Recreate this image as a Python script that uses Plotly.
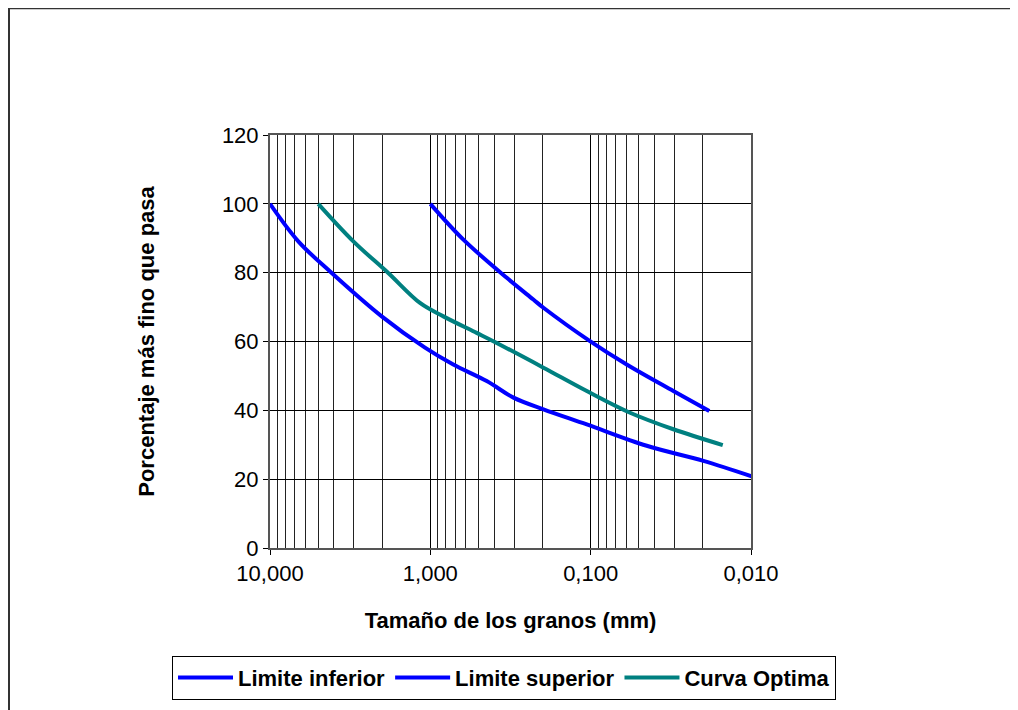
import plotly.graph_objects as go

# Data (grain size in mm, % passing)
inf_size = [10.0, 6.66, 4.12, 2.01, 1.08, 0.719, 0.445, 0.303, 0.197, 0.1057, 0.0447, 0.0198, 0.0099]
inf_pct = [100, 89.1, 79.9, 67.3, 58.2, 53.3, 48.5, 43.7, 40.3, 35.9, 29.7, 25.3, 20.8]

sup_size = [1.0, 0.622, 0.3336, 0.2278, 0.197, 0.101, 0.0596, 0.0305, 0.0182]
sup_pct = [100, 89.6, 78.5, 72.2, 69.8, 60.1, 53.3, 45.6, 39.8]

opt_size = [5.0, 3.02, 1.83, 1.16, 0.829, 0.514, 0.405, 0.197, 0.1057, 0.0568, 0.0305, 0.015]
opt_pct = [100, 89.1, 79.9, 71.2, 67.3, 62.5, 60.1, 52.4, 45.6, 39.3, 34.5, 29.9]

major_vals = [10, 1, 0.1, 0.01]
major_text = ["10,000", "1,000", "0,100", "0,010"]
minor_vals = [m * d for d in [0.01, 0.1, 1] for m in range(2, 10)]

FONT = "Liberation Sans, Arial, sans-serif"
FS = 22

fig = go.Figure()
fig.add_trace(go.Scatter(x=inf_size, y=inf_pct, mode="lines", name="Limite inferior",
                         line=dict(color="#0000FF", width=4, shape="spline", smoothing=1.0)))
fig.add_trace(go.Scatter(x=sup_size, y=sup_pct, mode="lines", name="Limite superior",
                         line=dict(color="#0000FF", width=4, shape="spline", smoothing=1.0)))
fig.add_trace(go.Scatter(x=opt_size, y=opt_pct, mode="lines", name="Curva Optima",
                         line=dict(color="#008080", width=4, shape="spline", smoothing=1.0)))

fig.update_layout(
    width=1010, height=702,
    margin=dict(l=262, r=267, t=127, b=161),
    paper_bgcolor="white", plot_bgcolor="white",
    font=dict(family=FONT, color="black", size=FS),
    showlegend=True,
    legend=dict(orientation="h",
                x=(164 - 262) / 481, xanchor="left", y=-0.258, yanchor="top",
                bordercolor="black", borderwidth=1, bgcolor="white",
                font=dict(family=FONT, size=FS, color="black", weight="bold"),
                itemwidth=55, tracegroupgap=0),
    xaxis=dict(type="log", range=[1, -2],
               tickmode="array", tickvals=major_vals, ticktext=major_text,
               ticks="outside", ticklen=5, tickcolor="black",
               showgrid=True, gridcolor="black", gridwidth=1,
               minor=dict(tickmode="array", tickvals=minor_vals, showgrid=True,
                          gridcolor="#222222", gridwidth=1, ticks=""),
               showline=True, linecolor="#555555", linewidth=2, mirror=True,
               zeroline=False,
               tickfont=dict(size=FS, family=FONT),
               title=dict(text="Tamaño de los granos (mm)", standoff=27,
                          font=dict(size=FS, family=FONT, weight="bold"))),
    yaxis=dict(range=[0, 120], tickmode="array", tickvals=[0, 20, 40, 60, 80, 100, 120],
               ticks="outside", ticklen=5, tickcolor="black",
               showgrid=True, gridcolor="black", gridwidth=1,
               showline=True, linecolor="#555555", linewidth=2, mirror=True,
               zeroline=False,
               tickfont=dict(size=FS, family=FONT),
               title=dict(text="Porcentaje más fino que pasa", standoff=61,
                          font=dict(size=FS, family=FONT, weight="bold"))),
)

# Outer chart border (partially outside the visible window, as in the reference)
fig.add_shape(type="rect", xref="paper", yref="paper",
              x0=(1 - 262) / 481, x1=1.8, y0=-0.6, y1=(541 - 0) / 414,
              line=dict(color="#333333", width=2), fillcolor="rgba(0,0,0,0)", layer="below")

fig.write_html("out.html")
